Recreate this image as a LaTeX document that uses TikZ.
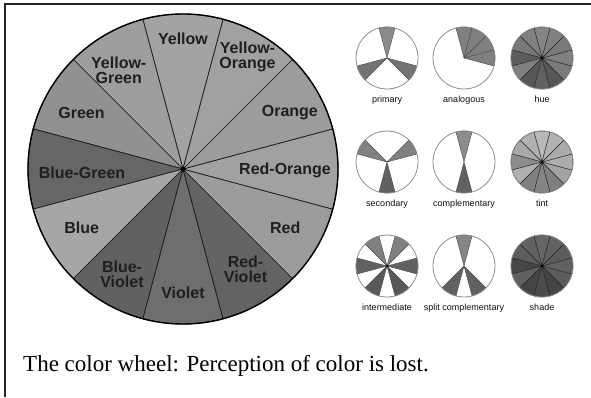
\documentclass[tikz,border=0pt]{standalone}
\usepackage{fontspec}
\setmainfont{Liberation Serif}
\setsansfont{Liberation Sans}
\usetikzlibrary{positioning}
\tikzset{
  % grosses Rad
  seg/.style={draw=black!90,line width=0.7pt,line join=round},
  rim/.style={draw=black,line width=1.4pt},
  bigtxt/.style={font=\sffamily\bfseries\fontsize{16}{15}\selectfont,text=black!88,
                 align=center,inner sep=0pt},
  % kleine Raeder
  minirim/.style={draw=black!45,line width=0.8pt},
  miniseg/.style={draw=black!70,line width=0.4pt,line join=round},
  minitxt/.style={font=\sffamily\fontsize{9}{10}\selectfont,text=black!95,inner sep=1pt},
  capt/.style={font=\fontsize{23}{26}\selectfont,inner sep=0pt,anchor=base west},
  frameline/.style={draw=black!85,line width=2pt},
}

\begin{document}
\begin{tikzpicture}[x=1pt,y=1pt]
\useasboundingbox (0,0) rectangle (591,397);
  \coordinate (fb) at (4.5,0);
  \coordinate (ftl) at (4.5,392.5);
  \coordinate (ftr) at (591,392.5);
  \draw[frameline] (fb) -- (ftl) -- (ftr);
  % Farbkreis
  \coordinate (hub) at (183,228);
  \foreach \k/\g in {0/36,1/38,2/43,3/60,4/35,5/62,6/57,7/61,8/39,9/37,10/39,11/37}
    \filldraw[seg,fill=black!\g] (hub) -- ++({75+30*\k}:155pt)
      arc[start angle={75+30*\k},delta angle=30,radius=155pt] -- cycle;
  \draw[rim] (hub) circle[radius=155pt];
  \fill (hub) circle[radius=2.5pt];
  \foreach \a/\r/\nm/\txt in {90/130/yellow/Yellow,123/118/yellowgreen/{Yellow-\\Green},
      151/116/green/Green,182/101/bluegreen/Blue-Green,210/117/blue/Blue,
      240/122/blueviolet/{Blue-\\Violet},270/124/violet/Violet,302/118/redviolet/{Red-\\Violet},
      330/118/red/Red,359/102/redorange/Red-Orange,28/121/orange/Orange,
      60/129/yelloworange/{Yellow-\\Orange}}
    \node[bigtxt] (\nm) at ([shift={(\a:\r pt)}]hub) {\txt};
  % kleine Raeder
  \coordinate (primary) at (387,339);
  \coordinate (analogous) at (464,339);
  \coordinate (hue) at (542,339);
  \coordinate (secondary) at (387,235);
  \coordinate (complementary) at (464,235);
  \coordinate (tint) at (542,235);
  \coordinate (intermediate) at (387,131);
  \coordinate (splitcomp) at (464,131);
  \coordinate (shade) at (542,131);
  \foreach \w/\k/\g in {primary/0/46,primary/4/55,primary/8/55,
      analogous/0/50,analogous/11/50,analogous/10/50,analogous/9/50,
      secondary/10/50,secondary/2/50,secondary/6/62,
      complementary/0/45,complementary/6/62,
      intermediate/1/50,intermediate/11/50,intermediate/9/62,intermediate/3/62,
      intermediate/5/65,intermediate/7/65,
      splitcomp/0/48,splitcomp/5/62,splitcomp/7/62}
    \filldraw[miniseg,fill=black!\g] (\w) -- ++({75+30*\k}:31pt)
      arc[start angle={75+30*\k},delta angle=30,radius=31pt] -- cycle;
  \foreach \w/\l in {hue/{48,50,53,64,50,66,62,66,52,50,52,50},
      tint/{28,30,34,45,31,50,48,50,36,32,33,30},
      shade/{60,62,64,72,62,73,70,73,64,62,64,62}}
    \foreach \g [count=\k from 0] in \l
      \filldraw[miniseg,draw=black!85,fill=black!\g] (\w) -- ++({75+30*\k}:31pt)
        arc[start angle={75+30*\k},delta angle=30,radius=31pt] -- cycle;
  \foreach \w in {primary,analogous,hue,secondary,complementary,tint,
      intermediate,splitcomp,shade}
    \draw[minirim] (\w) circle[radius=31pt];
  \foreach \w in {hue,tint,shade,intermediate}
    \fill (\w) circle[radius=1.5pt];
  \node[minitxt,below=37pt of primary] (lblprimary) {primary};
  \node[minitxt,below=37pt of analogous] (lblanalogous) {analogous};
  \node[minitxt,below=37pt of hue] (lblhue) {hue};
  \node[minitxt,below=37pt of secondary] (lblsecondary) {secondary};
  \node[minitxt,below=37pt of complementary] (lblcomplementary) {complementary};
  \node[minitxt,below=37pt of tint] (lbltint) {tint};
  \node[minitxt,below=37pt of intermediate] (lblintermediate) {intermediate};
  \node[minitxt,below=37pt of splitcomp] (lblsplitcomp) {split complementary};
  \node[minitxt,below=37pt of shade] (lblshade) {shade};
  % Bildunterschrift
  \node[capt] (caption) at (23,26) {The color wheel: Perception of color is lost.};
\end{tikzpicture}
\end{document}
